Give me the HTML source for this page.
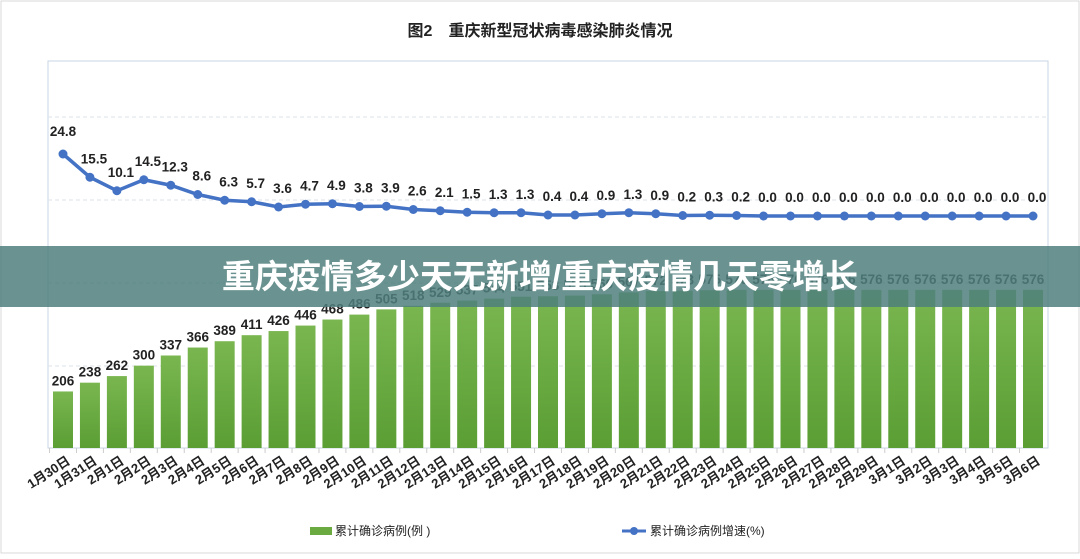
<!DOCTYPE html>
<html><head><meta charset="utf-8"><style>
body{margin:0;background:#fff;}
svg text{font-family:"Liberation Sans","Noto Sans CJK SC",sans-serif;}
</style></head><body>
<svg width="1080" height="554" viewBox="0 0 1080 554" xmlns="http://www.w3.org/2000/svg">
<defs>
<linearGradient id="g" x1="0" y1="0" x2="0" y2="1"><stop offset="0" stop-color="#7ab650"/><stop offset="1" stop-color="#5a9e34"/></linearGradient>
</defs>
<rect x="0" y="0" width="1080" height="554" fill="#fff"/>
<rect x="1" y="1" width="1078" height="552" fill="none" stroke="#d8d8d8"/>
<text x="540" y="36" text-anchor="middle" font-size="16" font-weight="bold" fill="#222">图2　重庆新型冠状病毒感染肺炎情况</text>
<rect x="48" y="61" width="1000" height="387" fill="none" stroke="#c9d6e3"/>
<g id="grid"></g>
<g id="bars"></g>
<g id="line"></g>
<g id="xlabels"></g>
<g>
<rect x="310" y="527" width="22" height="8" fill="#6aaa40"/>
<text x="335" y="535" font-size="12" fill="#222">累计确诊病例(例 )</text>
<line x1="622" y1="531" x2="646" y2="531" stroke="#4472c4" stroke-width="3"/>
<circle cx="634" cy="531" r="4" fill="#4472c4"/>
<text x="650" y="535" font-size="12" fill="#222">累计确诊病例增速(%)</text>
</g>
<g id="banner">
<rect x="0" y="246" width="1080" height="61" fill="#4f7f7d" fill-opacity="0.85"/>
<text x="540" y="288" text-anchor="middle" font-size="33" font-weight="bold" fill="#fff">重庆疫情多少天无新增/重庆疫情几天零增长</text>
</g>
</svg>
<script>
const categories=["1月30日","1月31日","2月1日","2月2日","2月3日","2月4日","2月5日","2月6日","2月7日","2月8日","2月9日","2月10日","2月11日","2月12日","2月13日","2月14日","2月15日","2月16日","2月17日","2月18日","2月19日","2月20日","2月21日","2月22日","2月23日","2月24日","2月25日","2月26日","2月27日","2月28日","2月29日","3月1日","3月2日","3月3日","3月4日","3月5日","3月6日"];
const cases=[206,238,262,300,337,366,389,411,426,446,468,486,505,518,529,537,544,551,553,555,560,567,572,573,575,576,576,576,576,576,576,576,576,576,576,576,576];
const growth=[24.8,15.5,10.1,14.5,12.3,8.6,6.3,5.7,3.6,4.7,4.9,3.8,3.9,2.6,2.1,1.5,1.3,1.3,0.4,0.4,0.9,1.3,0.9,0.2,0.3,0.2,0.0,0.0,0.0,0.0,0.0,0.0,0.0,0.0,0.0,0.0,0.0];
const NS="http://www.w3.org/2000/svg";
const x0=63,step=(1033-63)/36,base=448;
const xs=i=>x0+i*step;
const yBar=v=>base-v*0.2745;
const yLine=v=>216-v*2.5;
function mk(t,a,p){const e=document.createElementNS(NS,t);for(const k in a)e.setAttribute(k,a[k]);p.appendChild(e);return e;}
const grid=document.getElementById('grid');
[117,200,283,366].forEach(y=>{const l=mk('line',{x1:48,x2:1048,y1:y,y2:y,stroke:'#dde3ea','stroke-dasharray':'4,3'},grid);

});
const bars=document.getElementById('bars');
cases.forEach((v,i)=>{const r=mk('rect',{x:xs(i)-10,y:yBar(v),width:20,height:base-yBar(v),fill:'url(#g)'},bars);


const t=mk('text',{x:xs(i),y:yBar(v)-6,'text-anchor':'middle','font-size':13.5,'font-weight':'bold',fill:'#222'},bars);t.textContent=v;


const tk=mk('line',{x1:xs(i)-step/2,x2:xs(i)-step/2,y1:base,y2:base+5,stroke:'#ccc'},bars);

});
const lg=document.getElementById('line');
const pts=growth.map((v,i)=>xs(i)+','+yLine(v)).join(' ');
const pl=mk('polyline',{points:pts,fill:'none',stroke:'#4472c4','stroke-width':3.5},lg);


growth.forEach((v,i)=>{const c=mk('circle',{cx:xs(i),cy:yLine(v),r:4.5,fill:'#4472c4'},lg);


const dx=i==0?0:4;
const t=mk('text',{x:xs(i)+dx,y:yLine(v)-(i==0?18:14),'text-anchor':'middle','font-size':13.5,'font-weight':'bold',fill:'#222'},lg);t.textContent=v.toFixed(1);

});
const xl=document.getElementById('xlabels');
categories.forEach((c,i)=>{const x=xs(i)+8,y=463;const t=mk('text',{x:x,y:y,'text-anchor':'end','font-size':13,'font-weight':'bold',fill:'#222',transform:`rotate(-33 ${x} ${y})`},xl);t.textContent=c;

});
</script>
</body></html>
